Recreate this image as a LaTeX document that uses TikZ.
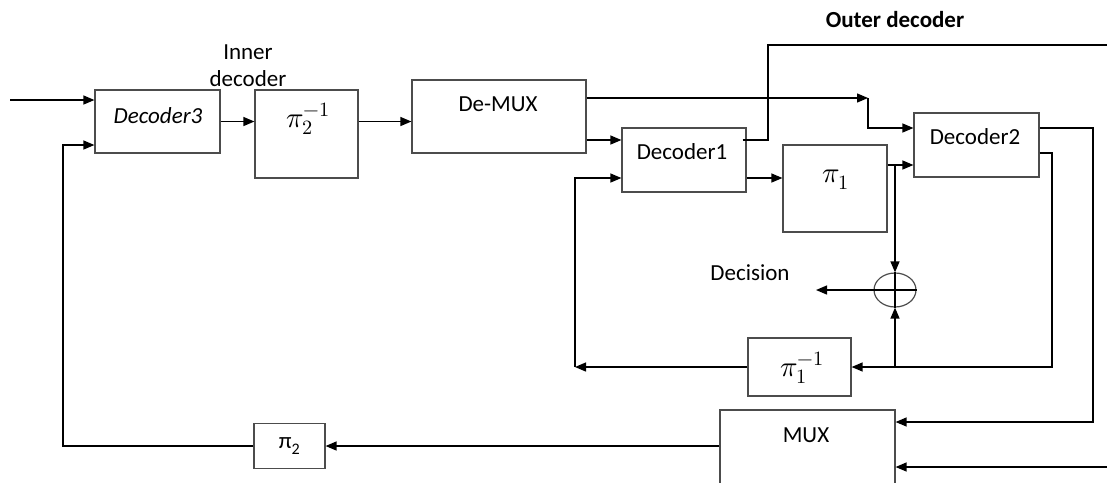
\documentclass[tikz,border=0pt]{standalone}
\usepackage{fontspec}
\usepackage{unicode-math}
\setmainfont{Carlito}
\setmathfont{Latin Modern Math}
\usetikzlibrary{arrows.meta,calc,shapes.geometric}

\begin{document}
\begin{tikzpicture}[x=1pt,y=-1pt,font=\fontsize{23}{27}\selectfont,
  bloc/.style 2 args={draw=black!70,line width=1.2pt,minimum width=#1,minimum height=#2,inner sep=0pt},
  somme/.style={draw=black!70,line width=1.2pt,ellipse,minimum width=42,minimum height=34,inner sep=0pt},
  perm/.style={font=\fontsize{29}{33}\selectfont},
  fleche/.style={line width=1.3pt,-{Triangle[length=11pt,width=9pt]}},
  ligne/.style={line width=1.2pt}]
\useasboundingbox (0,0) rectangle (1107,482);

% Blocs du décodeur
\node[bloc={125}{63}] (dec3) at (157.5,121.5) {};
\node[bloc={103}{88}] (pi2inv) at (306.5,134) {};
\node[bloc={174}{73}] (demux) at (499,116.5) {};
\node[bloc={124}{64}] (dec1) at (684,160) {};
\node[bloc={104}{87}] (pi1) at (835,188.5) {};
\node[bloc={125}{64}] (dec2) at (976.5,145) {};
\node[bloc={103}{58}] (pi1inv) at (799.5,367) {};
\node[bloc={175}{78}] (mux) at (807.5,449) {};
\node[bloc={71}{45}] (pi2) at (289.5,446) {π\textsubscript{2}};
\node[somme] (add) at (895,290) {};
\draw[ligne] (add.north) -- (add.south) (add.west) -- (add.east);

% Textes
\node (tdec3) at (158,116) {\itshape Decoder3};
\node[perm] (tpi2inv) at (308,119) {$\pi_2^{-1}$};
\node (tdemux) at (498,104) {De-MUX};
\node (tdec1) at (682,152) {Decoder1};
\node[perm] (tpi1) at (836,180) {$\pi_1$};
\node (tdec2) at (975,137) {Decoder2};
\node[perm] (tpi1inv) at (802,368) {$\pi_1^{-1}$};
\node (tmux) at (806,435) {MUX};
\node[align=center] (tinner) at (248,66) {Inner\\decoder};
\node (touter) at (895,20) {\bfseries Outer decoder};
\node (tdecision) at (750,273) {Decision};

% Connexions
\coordinate (in) at (10,100);
\draw[fleche] (in) -- (in -| dec3.west);
\draw[fleche] (dec3.east) -- (dec3.east -| pi2inv.west);
\draw[fleche] (dec3.east -| pi2inv.east) -- (dec3.east -| demux.west);

\coordinate (dmhaut) at (868,98);
\draw[fleche] (dmhaut -| demux.east) -- (dmhaut);
\draw[fleche] (dmhaut) |- ($(dec2.west)+(0,-17)$);
\coordinate (d1a) at ($(dec1.west)+(0,-20)$);
\draw[fleche] (d1a -| demux.east) -- (d1a);

\coordinate (outhaut) at (768,45);
\coordinate (outE) at (1107,45);
\draw[ligne] ($(dec1.east)+(-4,-20)$) -| (outhaut) -- (outE);

\coordinate (d1b) at ($(dec1.east)+(0,18)$);
\draw[fleche] (d1b) -- (d1b -| pi1.west);
\coordinate (retour) at (575,367);
\draw[fleche] (retour) |- ($(dec1.west)+(0,18)$);
\draw[fleche] (pi1inv.west) -- (retour);

\coordinate (tap) at (895,165);
\draw[fleche] (tap -| pi1.east) -- (tap -| dec2.west);
\draw[fleche] (tap) -- (add.north);

\coordinate (colA) at (1093,422);
\draw[fleche] ($(dec2.east)+(0,-17)$) -| (colA) -- (colA -| mux.east);
\coordinate (colB) at (1052,367);
\draw[fleche] ($(dec2.east)+(0,8)$) -| (colB) -- (colB -| pi1inv.east);
\draw[fleche] (colB -| add.south) -- (add.south);

\coordinate (decision) at (816,290);
\draw[fleche] (add.west) -- (decision);

\coordinate (muxin) at (1107,467);
\draw[fleche] (muxin) -- (muxin -| mux.east);
\draw[fleche] (pi2.east -| mux.west) -- (pi2.east);
\coordinate (coin) at (63,446);
\draw[fleche] (pi2.west) -- (coin) |- ($(dec3.west)+(0,23.5)$);
\end{tikzpicture}
\end{document}
